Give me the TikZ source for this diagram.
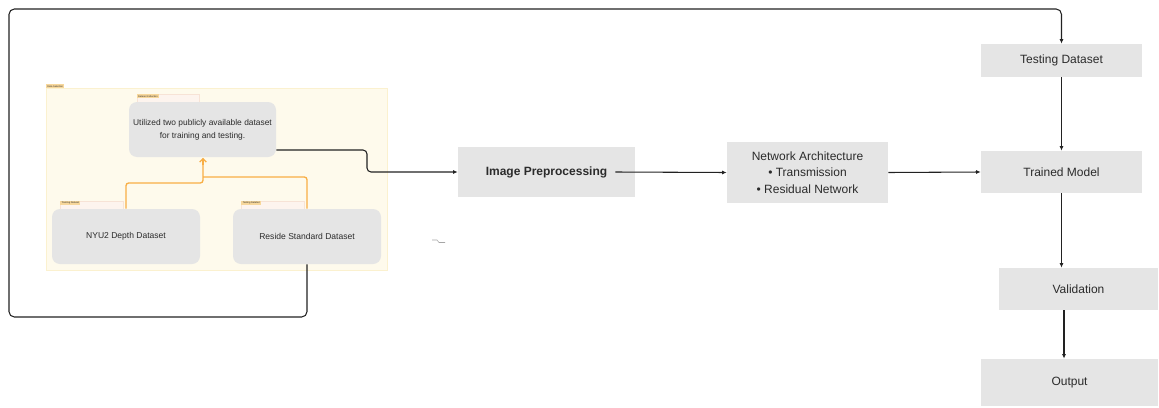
\documentclass[tikz,border=0pt]{standalone}
\usepackage{fontspec}
\setmainfont{Liberation Sans}
\usetikzlibrary{arrows.meta,calc}
\definecolor{boxgray}{HTML}{E5E5E5}
\definecolor{txt}{HTML}{2B2B2B}
\definecolor{lineblk}{HTML}{222222}
\definecolor{orangeln}{HTML}{F8AE45}
\definecolor{selfill}{HTML}{FEFAEC}
\definecolor{seldraw}{HTML}{FBF1CF}
\definecolor{grpfill}{HTML}{FDF4EE}
\definecolor{grpdraw}{HTML}{F7E3D6}
\definecolor{tagfill}{HTML}{F7D79B}
\begin{document}
\begin{tikzpicture}[x=0.75pt,y=-0.75pt,
  flatbox/.style={fill=boxgray,draw=none,text=txt,font=\fontsize{9}{11}\selectfont,align=center,inner sep=0pt},
  roundbox/.style={fill=boxgray,draw=none,text=txt,rounded corners=6pt,align=center,inner sep=0pt},
  conn/.style={draw=lineblk,line width=0.8pt,-{Latex[length=3.5pt,width=3pt]}},
  oconn/.style={draw=orangeln,line width=1pt},
  tag/.style={fill=tagfill,draw=none,inner sep=0pt,font=\fontsize{1.8}{2}\selectfont,text=txt,anchor=north west,minimum height=3pt}
]
\useasboundingbox (0,0) rectangle (1159,407);
\fill[white] (0,0) rectangle (1159,407);

% Data Selection frame
\draw[fill=selfill,draw=seldraw,line width=0.5pt] (46,88) rectangle (387,270);
\node[tag,minimum width=13.5pt] (tsel) at (46,84) {Data Selection};

% group frames
\draw[fill=grpfill,draw=grpdraw,line width=0.5pt] (137,94) rectangle (199,110);
\node[tag,minimum width=16pt] (tcol) at (137,94) {Dataset Collection};
\draw[fill=grpfill,draw=grpdraw,line width=0.5pt] (60,201) rectangle (123,215);
\node[tag,minimum width=15pt] (ttrn) at (60,201) {Training Dataset};
\draw[fill=grpfill,draw=grpdraw,line width=0.5pt] (241,201) rectangle (304,215);
\node[tag,minimum width=15pt] (ttst) at (241,201) {Testing DataSet};

% rounded boxes
\node[roundbox,minimum width=110.25pt,minimum height=41.25pt,font=\fontsize{6.3}{9.5}\selectfont] (dc) at (202.5,129.5)
  {Utilized two publicly available dataset\\for training and testing.};
\node[roundbox,minimum width=111pt,minimum height=41.25pt,font=\fontsize{6.4}{8}\selectfont] (nyu) at (126,236.5) {NYU2 Depth Dataset};
\node[roundbox,minimum width=111pt,minimum height=41.25pt,font=\fontsize{6.4}{8}\selectfont] (res) at (307,236.5) {Reside Standard Dataset};

% flat boxes
\node[flatbox,minimum width=132.75pt,minimum height=37.5pt,font=\fontsize{9}{11}\selectfont\bfseries] (prep) at (546.5,172) {Image Preprocessing};
\node[flatbox,minimum width=120.75pt,minimum height=45.75pt,font=\fontsize{9}{13.5}\selectfont] (net) at (807.5,172.5)
  {Network Architecture\\[-1pt]\textbullet\ Transmission\\[-1pt]\textbullet\ Residual Network};
\node[flatbox,minimum width=120.75pt,minimum height=24.75pt] (test) at (1061.5,60.5) {Testing Dataset};
\node[flatbox,minimum width=120.75pt,minimum height=31.5pt] (trained) at (1061.5,172) {Trained Model};
\node[flatbox,minimum width=119.25pt,minimum height=31.5pt] (valid) at (1078.5,289) {Validation};
\node[flatbox,minimum width=132.75pt,minimum height=35.25pt] (out) at (1069.5,382.5) {Output};

% orange connectors
\coordinate (oj1) at (203,183);
\coordinate (oj2) at (203,177);
\draw[oconn,rounded corners=2pt] (nyu.north) |- (oj1) -- ($(dc.south)+(0.5,1)$);
\draw[oconn,-{Straight Barb[length=2.5pt,width=5pt]}] ($(dc.south)+(0.5,8)$) -- ($(dc.south)+(0.5,0.5)$);
\draw[oconn,rounded corners=2pt] (res.north) |- (oj2);

% black connectors
\coordinate (m1) at (367,172);
\coordinate (pe) at ($(prep.east)+(-20,0)$);
\coordinate (vs) at ($(valid.south)+(-14.5,0)$);
\draw[conn,rounded corners=3pt] ($(dc.east)+(0,20.5)$) -| (m1) -- (prep.west);
\draw[conn] (pe) -- (net.west);
\draw[conn] (net.east) -- (trained.west);
\draw[conn] (test.south) -- (trained.north);
\draw[conn] (trained.south) -- (trained.south |- valid.north);
\draw[conn] (vs) -- (vs |- out.north);

% feedback loop
\coordinate (lb) at (9,317);
\coordinate (lt) at (9,9);
\draw[conn,rounded corners=4pt] (res.south) |- (lb) -- (lt) -| (test.north);

% stray stub
\draw[draw=gray!70,line width=0.4pt] (432,240) -- (437,240) -- (439,242.5) -- (445,242.5);
\end{tikzpicture}
\end{document}
